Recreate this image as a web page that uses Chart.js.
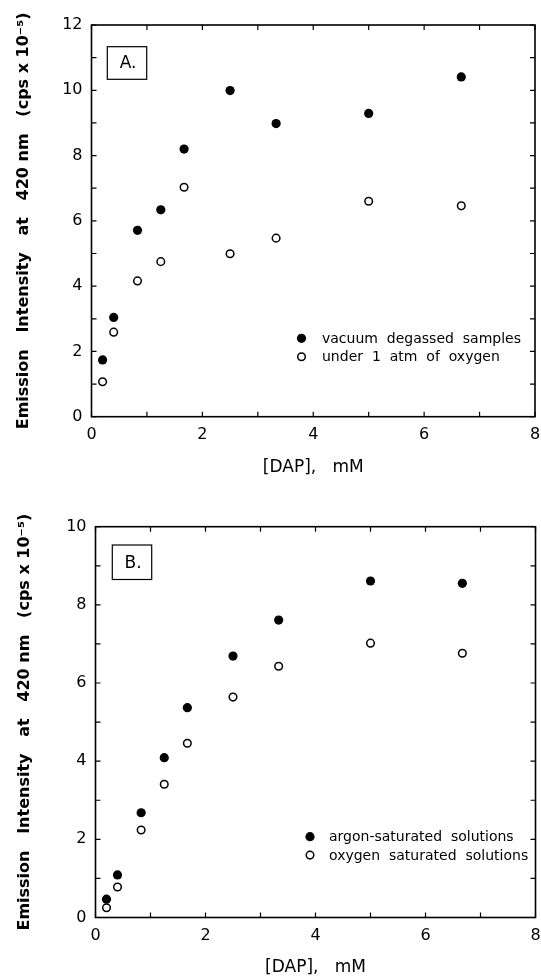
<!DOCTYPE html>
<html>
<head>
<meta charset="utf-8">
<script src="https://cdn.jsdelivr.net/npm/chart.js@4.4.1/dist/chart.umd.min.js"></script>
<style>
  body { margin: 0; background: #fff; }
  canvas { display: block; }
</style>
</head>
<body>
<canvas id="chartA" width="541" height="490"></canvas>
<canvas id="chartB" width="541" height="490"></canvas>
<script>
// [DAP] in mM, same for both panels
const dapConc = [0.2, 0.4, 0.83, 1.25, 1.67, 2.5, 3.33, 5.0, 6.67];

// panel A
const vacuumDegassed = [1.74, 3.04, 5.71, 6.34, 8.20, 9.99, 8.98, 9.29, 10.41];
const underOxygen    = [1.07, 2.59, 4.16, 4.75, 7.03, 4.99, 5.47, 6.60, 6.46];

// panel B
const argonSaturated  = [0.47, 1.09, 2.68, 4.09, 5.37, 6.69, 7.61, 8.61, 8.55];
const oxygenSaturated = [0.25, 0.78, 2.24, 3.41, 4.46, 5.64, 6.43, 7.02, 6.76];

const labelsA = ['vacuum  degassed  samples', 'under  1  atm  of  oxygen'];
const labelsB = ['argon-saturated  solutions', 'oxygen  saturated  solutions'];

const xTitle = '[DAP],   mM';
const yTitle = 'Emission   Intensity   at   420 nm   (cps x 10\u207B\u2075)';

const FONT = "'DejaVu Sans', sans-serif";

// frame, inward ticks on all sides, panel tag and the legend inside the plot
const framePlugin = {
  id: 'frame',
  afterDraw(chart, args, opts) {
    const {ctx, chartArea: a, scales: {x, y}} = chart;
    ctx.save();
    ctx.strokeStyle = '#000';
    ctx.lineWidth = 1.6;
    ctx.strokeRect(a.left, a.top, a.right - a.left, a.bottom - a.top);

    ctx.lineWidth = 1.2;
    ctx.beginPath();
    for (let v = x.min; v <= x.max; v++) {
      const px = x.getPixelForValue(v);
      ctx.moveTo(px, a.bottom); ctx.lineTo(px, a.bottom - 5);
      ctx.moveTo(px, a.top); ctx.lineTo(px, a.top + 5);
    }
    for (let v = y.min; v <= y.max; v++) {
      const py = y.getPixelForValue(v);
      ctx.moveTo(a.left, py); ctx.lineTo(a.left + 5, py);
      ctx.moveTo(a.right, py); ctx.lineTo(a.right - 5, py);
    }
    ctx.stroke();

    // panel tag box
    const [bx, by, bw, bh] = opts.box;
    ctx.lineWidth = 1.2;
    ctx.strokeRect(bx, by, bw, bh);
    ctx.fillStyle = '#000';
    ctx.font = '17px ' + FONT;
    ctx.textAlign = 'center';
    ctx.textBaseline = 'middle';
    ctx.fillText(opts.tag, bx + bw / 2 + 1, by + bh / 2 + 1);

    // legend
    ctx.font = '14px ' + FONT;
    ctx.textAlign = 'left';
    chart.data.datasets.forEach((ds, i) => {
      const ly = opts.legendY + i * 18.4;
      ctx.beginPath();
      ctx.arc(opts.legendX, ly, ds.pointRadius, 0, Math.PI * 2);
      ctx.fillStyle = ds.pointBackgroundColor;
      ctx.fill();
      ctx.lineWidth = ds.pointBorderWidth;
      ctx.strokeStyle = '#000';
      if (ds.pointBorderWidth > 0) ctx.stroke();
      ctx.fillStyle = '#000';
      ctx.fillText(ds.label, opts.textX, ly + 1);
    });
    ctx.restore();
  }
};

function makeChart(id, filled, open, labels, p) {
  const toPts = vals => dapConc.map((c, i) => ({x: c, y: vals[i]}));
  return new Chart(document.getElementById(id), {
    type: 'scatter',
    data: {
      datasets: [
        { label: labels[0], data: toPts(filled), pointRadius: 4.6,
          pointBackgroundColor: '#000', pointBorderColor: '#000', pointBorderWidth: 0 },
        { label: labels[1], data: toPts(open), pointRadius: 3.8,
          pointBackgroundColor: '#fff', pointBorderColor: '#000', pointBorderWidth: 1.5 }
      ]
    },
    options: {
      responsive: false,
      animation: false,
      events: [],
      layout: { padding: { top: p.top, right: p.right, left: 0, bottom: 0 } },
      plugins: {
        legend: { display: false },
        tooltip: { enabled: false },
        frame: p.frame
      },
      scales: {
        x: {
          type: 'linear', min: 0, max: 8,
          grid: { display: false, drawTicks: false },
          border: { display: false },
          ticks: { stepSize: 2, padding: 9, color: '#000', font: { family: FONT, size: 16 } },
          title: { display: true, text: xTitle, color: '#000',
                   font: { family: FONT, size: 17 }, padding: { top: 0, bottom: p.xTitlePad } },
          afterFit: s => { s.height = p.xh; s.paddingLeft = 0; s.paddingRight = 0; }
        },
        y: {
          type: 'linear', min: 0, max: p.ymax,
          grid: { display: false, drawTicks: false },
          border: { display: false },
          ticks: { stepSize: 2, padding: 9, color: '#000', font: { family: FONT, size: 16 } },
          title: { display: true, text: yTitle, color: '#000',
                   font: { family: FONT, size: 16, weight: 'bold' }, padding: { top: p.yTitlePad, bottom: 0 } },
          afterFit: s => { s.width = p.left; s.paddingTop = 0; s.paddingBottom = 0; }
        }
      }
    },
    plugins: [framePlugin]
  });
}

makeChart('chartA', vacuumDegassed, underOxygen, labelsA, {
  top: 25, right: 6, left: 91.5, xh: 73.3, ymax: 12, xTitlePad: 12, yTitlePad: 14.5,
  frame: { tag: 'A.', box: [107.3, 46.7, 39.4, 32.6], legendX: 301.5, legendY: 338.3, textX: 322 }
});

makeChart('chartB', argonSaturated, oxygenSaturated, labelsB, {
  top: 36.7, right: 3, left: 95.5, xh: 62.5, ymax: 10, xTitlePad: 2, yTitlePad: 15.5,
  frame: { tag: 'B.', box: [112.3, 55, 39.4, 34.5], legendX: 310, legendY: 346.7, textX: 329 }
});
</script>
</body>
</html>
